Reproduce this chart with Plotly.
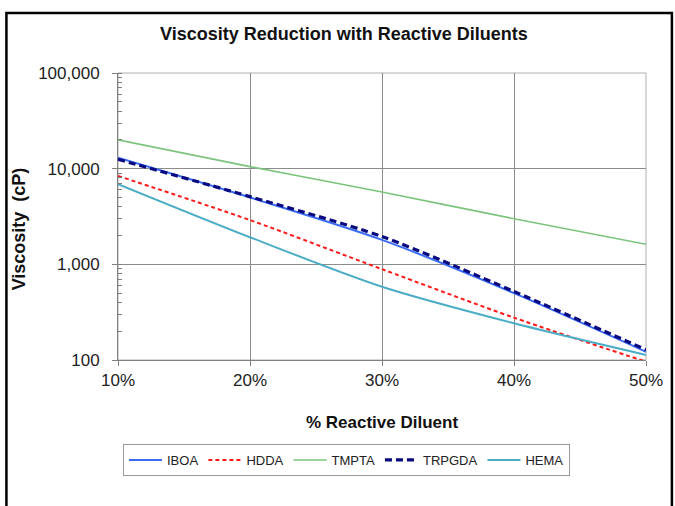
import plotly.graph_objects as go

pct = [10, 20, 30, 40, 50]
iboa = [13000, 5000, 1800, 500, 122]
hdda = [8400, 2900, 890, 277, 96]
tmpta = [20000, 10500, 5700, 3000, 1620]
trpgda = [12500, 5100, 1950, 520, 128]
hema = [6900, 1920, 583, 242, 113]

FONT = "Liberation Sans, Arial, sans-serif"

series = [
    ("IBOA", iboa, "#3B6CF5", 2, "solid"),
    ("HDDA", hdda, "#FF1A1A", 2, "4px,3px"),
    ("TMPTA", tmpta, "#7CC47C", 1.6, "solid"),
    ("TRPGDA", trpgda, "#0A0A80", 3.2, "7px,4px"),
    ("HEMA", hema, "#4BACC6", 2, "solid"),
]

fig = go.Figure()
for name, vals, color, w, dash in series:
    fig.add_trace(go.Scatter(
        x=pct, y=vals, name=name, mode="lines",
        line=dict(color=color, width=w, dash=dash, shape="spline", smoothing=0.8),
    ))

fig.update_layout(
    width=675, height=506,
    margin=dict(l=118, r=27, t=73, b=146),
    paper_bgcolor="white", plot_bgcolor="white",
    font=dict(family=FONT, size=17, color="#222222"),
    title=dict(text="<b>Viscosity Reduction with Reactive Diluents</b>",
               x=344/675, xanchor="center", y=1-34/506, yanchor="middle",
               font=dict(family=FONT, size=18, color="#111111")),
    showlegend=True,
    legend=dict(orientation="h", x=(123-118)/530, xanchor="left",
                y=(360-444)/287, yanchor="top",
                bordercolor="#9a9a9a", borderwidth=1,
                font=dict(family=FONT, size=13, color="#222222"),
                itemwidth=33, tracegroupgap=0),
)

fig.update_xaxes(
    range=[10, 50], dtick=10, ticksuffix="%",
    showgrid=True, gridcolor="#8c8c8c", gridwidth=1,
    showline=True, linecolor="#808080", linewidth=1,
    ticks="outside", ticklen=5, tickcolor="#808080",
    zeroline=False,
    title=dict(text="<b>% Reactive Diluent</b>", standoff=26,
               font=dict(family=FONT, size=17, color="#111111")),
)
fig.update_yaxes(
    type="log", range=[2, 5], dtick=1, tickformat=",d",
    showgrid=True, gridcolor="#8c8c8c", gridwidth=1,
    showline=True, linecolor="#808080", linewidth=1,
    ticks="outside", ticklen=5, tickcolor="#808080", ticklabelstandoff=9,
    minor=dict(ticks="inside", ticklen=4, tickcolor="#808080", dtick="D1", showgrid=False),
    zeroline=False,
)

# y-axis title placed to match the reference position
fig.add_annotation(text="<b>Viscosity  (cP)</b>", textangle=-90,
                   xref="paper", yref="paper", x=(19-118)/530, y=(360-229)/287,
                   xanchor="center", yanchor="middle", showarrow=False,
                   font=dict(family=FONT, size=18, color="#111111"))

# light plot-area border (top/right)
fig.add_shape(type="rect", xref="paper", yref="paper", x0=0, y0=0, x1=1, y1=1,
              line=dict(color="#b0b0b0", width=1), layer="below")
# outer chart frame
fig.add_shape(type="rect", xref="paper", yref="paper",
              x0=(6-118)/530, x1=(674-118)/530, y0=(360-520)/287, y1=(360-13)/287,
              line=dict(color="black", width=2.5))

fig.write_html("out.html", config={"displayModeBar": False},
               post_script="document.body.style.margin='0px';")
